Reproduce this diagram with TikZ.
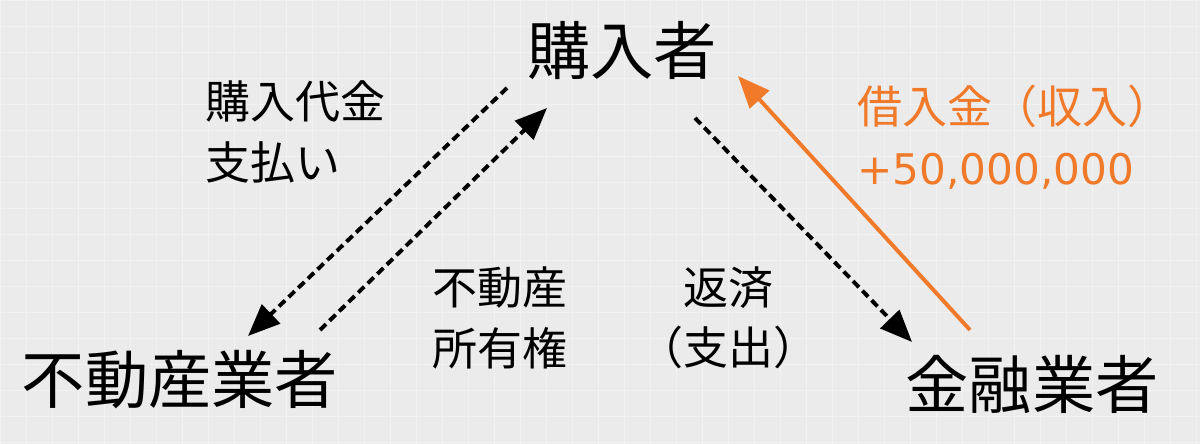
\documentclass[tikz,border=0pt]{standalone}
\usepackage{fontspec}
\setmainfont{Noto Sans CJK JP}
\newfontfamily\numf{DejaVu Sans}
\usetikzlibrary{arrows.meta}
\definecolor{bg}{HTML}{EBEBEB}
\definecolor{gridc}{HTML}{F2F2F2}
\definecolor{org}{HTML}{F07A2A}
\begin{document}
\begin{tikzpicture}[x=0.025cm,y=-0.025cm,
 big/.style={font=\fontsize{45}{48}\selectfont,inner sep=0},
 lab/.style={font=\fontsize{32}{43}\selectfont,inner sep=0,align=center},
 dsh/.style={line width=2.8pt,dash pattern=on 6pt off 3.5pt,-{Triangle[length=0.8cm,width=0.65cm]}},
 sol/.style={line width=2.8pt,draw=org,-{Triangle[length=0.8cm,width=0.65cm]},color=org}]
\fill[bg] (0,0) rectangle (1200,444);
\useasboundingbox (0,0) rectangle (1200,444);
\foreach \i in {0,26,...,1200} \draw[gridc,line width=0.6pt] (\i,0)--(\i,444);
\foreach \j in {0,26,...,444} \draw[gridc,line width=0.6pt] (0,\j)--(1200,\j);
\node[big] (buyer) at (622,50) {購入者};
\node[big] (estate) at (180,380) {不動産業者};
\node[big] (bank) at (1032,384) {金融業者};
\node[lab,align=left,anchor=west] (pay) at (205,132) {購入代金\\支払い};
\node[lab,align=left,anchor=west] (own) at (432,318) {不動産\\所有権};
\node[lab] (rep) at (728,318) {返済\\（支出）};
\node[lab,text=org,align=left,anchor=west] (loan) at (857,137) {借入金（収入）\\{\numf\fontsize{30}{43}\selectfont +50,000,000}};
\coordinate (a1) at (507,88); \coordinate (a2) at (248,336);
\coordinate (b1) at (320,330); \coordinate (b2) at (547,108);
\coordinate (c1) at (695,118); \coordinate (c2) at (912,342);
\coordinate (d1) at (970,330); \coordinate (d2) at (738,76);
\draw[dsh] (a1)--(a2);
\draw[dsh] (b1)--(b2);
\draw[dsh] (c1)--(c2);
\draw[sol] (d1)--(d2);
\end{tikzpicture}
\end{document}
